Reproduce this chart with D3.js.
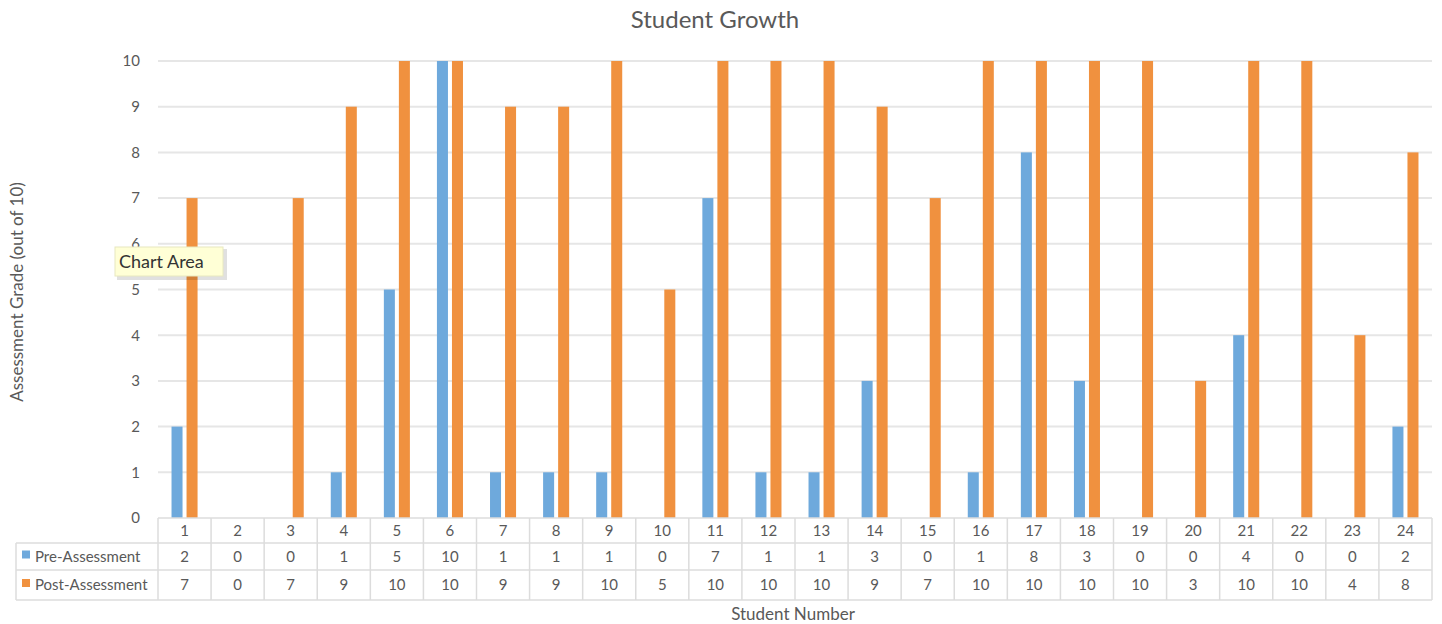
<!DOCTYPE html>
<html><head><meta charset="utf-8">
<script src="https://cdn.jsdelivr.net/npm/d3@7"></script>
<style>body{margin:0;background:#fff}svg{display:block}text{font-family:Lato,"Open Sans",sans-serif}</style>
</head><body>
<svg id="c" width="1442" height="624"></svg>
<script>
const students = ["1","2","3","4","5","6","7","8","9","10","11","12","13","14","15","16","17","18","19","20","21","22","23","24"];
const preAssessment = [2,0,0,1,5,10,1,1,1,0,7,1,1,3,0,1,8,3,0,0,4,0,0,2];
const postAssessment = [7,0,7,9,10,10,9,9,10,5,10,10,10,9,7,10,10,10,10,3,10,10,4,8];
const seriesNames = ["Pre-Assessment","Post-Assessment"];
const yTicks = [0,1,2,3,4,5,6,7,8,9,10];

const colors = ["#6ea9dc","#f0913f"];
const txt = "#595959";
const svg = d3.select("#c");
const L = 158, R = 1432, T = 61, B = 518;
const x = d3.scaleBand().domain(students).range([L, R]);
const xs = d3.scaleBand().domain(seriesNames).range([0, x.bandwidth()]).paddingInner(0.267).paddingOuter(0.9);
const y = d3.scaleLinear().domain([0,10]).range([B, T]);

svg.append("text").attr("x",715).attr("y",28).attr("text-anchor","middle")
  .attr("font-size",24).attr("fill",txt).text("Student Growth");

// gridlines
svg.append("g").selectAll("line").data(yTicks.filter(d=>d>0)).join("line")
  .attr("x1",L).attr("x2",R).attr("y1",d=>y(d)).attr("y2",d=>y(d))
  .attr("stroke","#e6e6e6").attr("stroke-width",2);

// y axis labels
const ya = svg.append("g").attr("transform",`translate(${L-18},0)`)
  .call(d3.axisLeft(y).tickValues(yTicks).tickSize(0).tickPadding(0));
ya.select(".domain").remove();
ya.selectAll("text").attr("font-size",15).attr("fill",txt).attr("font-family","Lato,'Open Sans',sans-serif");

svg.append("text").attr("transform","translate(23,292) rotate(-90)").attr("text-anchor","middle")
  .attr("font-size",17).attr("fill",txt).text("Assessment Grade (out of 10)");

// bars
const data = [preAssessment, postAssessment];
data.forEach((vals,si)=>{
  svg.append("g").selectAll("rect").data(vals).join("rect")
    .attr("x",(d,i)=>x(students[i])+xs(seriesNames[si]))
    .attr("width",xs.bandwidth())
    .attr("y",d=>y(d)).attr("height",d=>B-y(d))
    .attr("fill",colors[si]);
});

// data table
const rowH = [B, 543, 570, 600];
const tableLeft = 16;
const g = svg.append("g").attr("stroke","#dcdcdc").attr("stroke-width",1.5).attr("fill","none");
g.append("line").attr("x1",L).attr("x2",R).attr("y1",rowH[0]).attr("y2",rowH[0]);
[1,2,3].forEach(k=>g.append("line").attr("x1",tableLeft).attr("x2",R).attr("y1",rowH[k]).attr("y2",rowH[k]));
g.append("line").attr("x1",tableLeft).attr("x2",tableLeft).attr("y1",rowH[1]).attr("y2",rowH[3]);
students.concat(["end"]).forEach((s,i)=>{
  const xx = i<students.length ? x(s) : R;
  g.append("line").attr("x1",xx).attr("x2",xx).attr("y1",rowH[0]).attr("y2",rowH[3]);
});
svg.append("g").selectAll("text").data(students).join("text")
  .attr("x",d=>x(d)+x.bandwidth()/2).attr("y",(rowH[0]+rowH[1])/2+5)
  .attr("text-anchor","middle").attr("font-size",15).attr("fill",txt).text(d=>d);
data.forEach((vals,si)=>{
  const cy = (rowH[si+1]+rowH[si+2])/2+5;
  svg.append("g").selectAll("text").data(vals).join("text")
    .attr("x",(d,i)=>x(students[i])+x.bandwidth()/2).attr("y",cy)
    .attr("text-anchor","middle").attr("font-size",15).attr("fill",txt).text(d=>d);
  svg.append("rect").attr("x",tableLeft+6).attr("y",cy-11).attr("width",8).attr("height",8).attr("fill",colors[si]);
  svg.append("text").attr("x",tableLeft+19).attr("y",cy).attr("font-size",15).attr("fill",txt).text(seriesNames[si]);
});

svg.append("text").attr("x",793).attr("y",620).attr("text-anchor","middle")
  .attr("font-size",17).attr("fill",txt).text("Student Number");

// tooltip "Chart Area"
const tt = svg.append("g");
tt.append("rect").attr("x",117).attr("y",249).attr("width",110).attr("height",31).attr("fill","#000").attr("opacity",0.12);
tt.append("rect").attr("x",115).attr("y",247).attr("width",108).attr("height",29).attr("fill","#ffffd6").attr("stroke","#e8e8c0");
tt.append("text").attr("x",119).attr("y",268).attr("font-size",18).attr("fill","#333").text("Chart Area");
</script>
</body></html>
